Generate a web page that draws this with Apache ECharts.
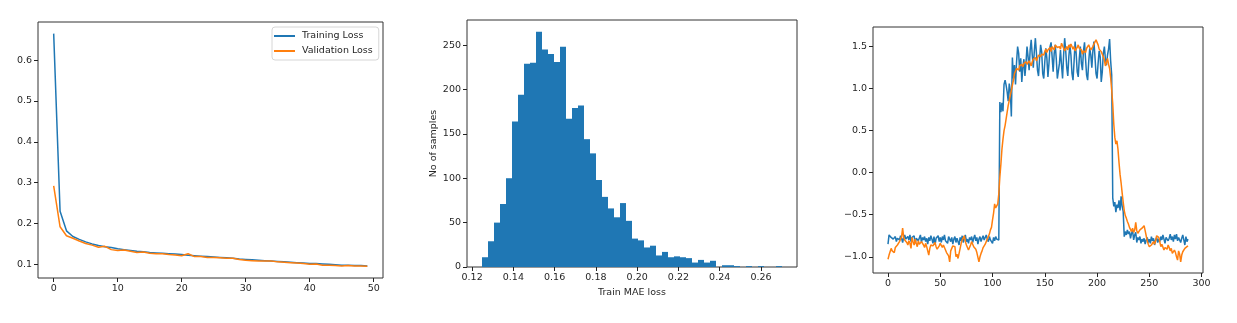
<!DOCTYPE html>
<html>
<head>
<meta charset="utf-8">
<script src="https://cdn.jsdelivr.net/npm/echarts@6/dist/echarts.min.js"></script>
<style>
html,body{margin:0;padding:0;background:#fff;}
#chart{width:1237px;height:323px;}
</style>
</head>
<body>
<div id="chart"></div>
<script>
// ---- Panel 1: loss curves ----
const trainLoss = [0.665, 0.230, 0.182, 0.168, 0.161, 0.155, 0.150, 0.146, 0.143, 0.141,
  0.138, 0.136, 0.134, 0.132, 0.131, 0.129, 0.128, 0.127, 0.126, 0.125,
  0.124, 0.122, 0.121, 0.120, 0.119, 0.118, 0.117, 0.116, 0.115, 0.113,
  0.112, 0.111, 0.110, 0.109, 0.108, 0.107, 0.106, 0.105, 0.104, 0.103,
  0.102, 0.102, 0.101, 0.100, 0.099, 0.098, 0.098, 0.097, 0.097, 0.096];
const valLoss = [0.292, 0.192, 0.170, 0.164, 0.157, 0.151, 0.147, 0.142, 0.144, 0.136,
  0.134, 0.135, 0.132, 0.129, 0.130, 0.127, 0.126, 0.126, 0.124, 0.123,
  0.121, 0.126, 0.119, 0.119, 0.117, 0.117, 0.116, 0.115, 0.115, 0.112,
  0.110, 0.109, 0.108, 0.108, 0.108, 0.106, 0.105, 0.104, 0.103, 0.102,
  0.100, 0.101, 0.098, 0.098, 0.097, 0.096, 0.097, 0.096, 0.096, 0.095];
const lossXTicks = [0, 10, 20, 30, 40, 50];
const lossYTicks = [0.1, 0.2, 0.3, 0.4, 0.5, 0.6];

// ---- Panel 2: histogram of train MAE loss ----
const maeBinStart = 0.1248;
const maeBinWidth = 0.002908;
const maeCounts = [11, 29, 50, 71, 100, 164, 194, 229, 230, 265,
  245, 240, 231, 248, 167, 179, 182, 144, 128, 98,
  79, 66, 56, 72, 52, 32, 30, 22, 24, 13,
  17, 11, 12, 11, 10, 5, 8, 5, 7, 0,
  2, 2, 1, 0, 1, 0, 1, 0, 0, 1];
const maeXTicks = [0.12, 0.14, 0.16, 0.18, 0.20, 0.22, 0.24, 0.26];
const maeYTicks = [0, 50, 100, 150, 200, 250];

// ---- Panel 3: two signals ----
const signalBlue = [
  -0.85, -0.74, -0.73, -0.77, -0.75, -0.79, -0.78, -0.76, -0.82, -0.78,
  -0.77, -0.80, -0.75, -0.78, -0.83, -0.77, -0.74, -0.79, -0.81, -0.76,
  -0.80, -0.74, -0.82, -0.77, -0.79, -0.75, -0.84, -0.78, -0.76, -0.81,
  -0.79, -0.74, -0.83, -0.77, -0.80, -0.76, -0.82, -0.78, -0.85, -0.77,
  -0.81, -0.75, -0.79, -0.84, -0.76, -0.86, -0.78, -0.80, -0.75, -0.82,
  -0.77, -0.83, -0.76, -0.80, -0.74, -0.81, -0.79, -0.84, -0.76, -0.78,
  -0.82, -0.77, -0.85, -0.79, -0.76, -0.83, -0.78, -0.80, -0.86, -0.77,
  -0.81, -0.75, -0.83, -0.78, -0.74, -0.82, -0.79, -0.84, -0.77, -0.80,
  -0.76, -0.83, -0.78, -0.74, -0.81, -0.77, -0.85, -0.79, -0.76, -0.82,
  -0.78, -0.75, -0.80, -0.77, -0.74, -0.79, -0.82, -0.76, -0.80, -0.78,
  -0.84, -0.77, -0.81, -0.76, -0.79, -0.78, -0.80,
  0.84, 0.72, 0.83,
  0.73, 1.05, 1.10, 1.04, 0.96, 0.85, 1.06, 0.98, 0.67, 1.37,
  1.12, 1.28, 1.05, 1.32, 1.50, 1.42, 1.20, 1.36, 1.08, 1.25,
  1.35, 1.15, 1.30, 1.50, 1.38, 1.22, 1.46, 1.58, 1.40, 1.25,
  1.45, 1.60, 1.42, 1.22, 1.15, 1.35, 1.52, 1.44, 1.18, 1.12,
  1.32, 1.48, 1.36, 1.14, 1.30, 1.50, 1.55, 1.38, 1.20, 1.42,
  1.52, 1.35, 1.12, 1.10, 1.30, 1.46, 1.28, 1.12, 1.40, 1.60,
  1.45, 1.25, 1.15, 1.38, 1.52, 1.40, 1.18, 1.10, 1.32, 1.56,
  1.42, 1.20, 1.14, 1.36, 1.50, 1.30, 1.22, 1.45, 1.55, 1.35,
  1.16, 1.10, 1.32, 1.48, 1.40, 1.25, 1.45, 1.56, 1.38, 1.18,
  1.12, 1.30, 1.45, 1.38, 1.08, 1.20, 1.42, 1.50, 1.35, 1.28,
  1.40, 1.47, 1.59, 1.33, 1.16,
  -0.30, -0.40, -0.35, -0.47, -0.38,
  -0.42, -0.33, -0.45, -0.28, -0.40, -0.46,
  -0.76, -0.70, -0.74, -0.68,
  -0.73, -0.70, -0.78, -0.72, -0.69, -0.80, -0.74, -0.71, -0.83, -0.77,
  -0.80, -0.76, -0.84, -0.79, -0.82, -0.78, -0.85, -0.80, -0.77, -0.83,
  -0.79, -0.84, -0.76, -0.81, -0.78, -0.86, -0.80, -0.77, -0.83, -0.79,
  -0.82, -0.76, -0.80, -0.74, -0.79, -0.84, -0.77, -0.75, -0.81, -0.78,
  -0.73, -0.80, -0.76, -0.82, -0.74, -0.79, -0.73, -0.81, -0.77, -0.75,
  -0.83, -0.78, -0.74, -0.80, -0.86, -0.76, -0.82, -0.79];
const signalOrange = [
  -1.03, -0.98, -0.94, -0.90, -0.93, -0.91, -0.95, -0.89, -0.87, -0.86,
  -0.85, -0.82, -0.80, -0.76, -0.66, -0.77, -0.80, -0.78, -0.83, -0.86,
  -0.81, -0.84, -0.90, -0.77, -0.82, -0.86, -0.79, -0.84, -0.88, -0.81,
  -0.85, -0.87, -0.82, -0.83, -0.86, -0.89, -0.84, -0.88, -0.93, -0.98,
  -0.90, -0.86, -0.84, -0.87, -0.85, -0.83, -0.88, -0.91, -0.93, -0.87,
  -0.84, -0.85, -0.89, -0.86, -0.89, -0.92, -0.95, -0.97, -0.99, -1.06,
  -0.93, -0.90, -0.87, -0.89, -0.88, -1.00, -0.97, -1.02, -1.04, -0.90,
  -0.84, -0.80, -0.78, -0.75, -0.82, -0.86, -0.89, -0.92, -0.93, -0.86,
  -0.82, -0.85, -0.88, -0.87, -0.91, -0.95, -0.97, -1.06, -1.00, -0.96,
  -0.93, -0.89, -0.87, -0.85, -0.82, -0.80, -0.76, -0.73, -0.68, -0.65,
  -0.56, -0.48, -0.37, -0.42, -0.44, -0.37, -0.25,
  -0.05, 0.10, 0.28,
  0.40, 0.50, 0.56, 0.64, 0.72, 0.80, 0.86, 0.92, 0.98, 1.04,
  1.10, 1.18, 1.21, 1.24, 1.26, 1.22, 1.27, 1.25, 1.29, 1.26,
  1.30, 1.28, 1.32, 1.29, 1.31, 1.33, 1.30, 1.27, 1.32, 1.35,
  1.34, 1.37, 1.33, 1.36, 1.40, 1.42, 1.38, 1.41, 1.43, 1.40,
  1.44, 1.47, 1.43, 1.46, 1.45, 1.49, 1.44, 1.50, 1.48, 1.46,
  1.52, 1.53, 1.49, 1.51, 1.50, 1.47, 1.54, 1.52, 1.48, 1.45,
  1.44, 1.50, 1.46, 1.52, 1.49, 1.53, 1.51, 1.47, 1.50, 1.45,
  1.44, 1.49, 1.52, 1.48, 1.50, 1.46, 1.41, 1.45, 1.47, 1.43,
  1.48, 1.50, 1.52, 1.49, 1.46, 1.44, 1.50, 1.53, 1.55, 1.58,
  1.56, 1.52, 1.47, 1.49, 1.44, 1.42, 1.38, 1.34, 1.27, 1.25,
  1.36, 1.29, 1.24, 1.13, 0.98, 0.82, 0.58, 0.42, 0.34, 0.38,
  0.28, 0.12, -0.02, -0.12, -0.24, -0.35, -0.45, -0.51, -0.54, -0.58,
  -0.61, -0.65, -0.67, -0.70, -0.66, -0.71, -0.68, -0.59, -0.69, -0.72,
  -0.73, -0.68, -0.70, -0.66, -0.64, -0.63, -0.69, -0.75, -0.81, -0.85,
  -0.88, -0.90, -0.86, -0.84, -0.82, -0.85, -0.81, -0.75, -0.73, -0.77,
  -0.82, -0.88, -0.85, -0.87, -0.92, -0.89, -0.88, -0.91, -0.86, -0.89,
  -0.93, -0.90, -0.96, -0.94, -0.92, -0.95, -1.00, -1.04, -0.93, -0.97,
  -1.06, -0.98, -0.94, -0.92, -0.90, -0.89, -0.88, -0.87];
const sigXTicks = [0, 50, 100, 150, 200, 250, 300];
const sigYTicks = [-1.0, -0.5, 0.0, 0.5, 1.0, 1.5];

// ---- build ----
const BLUE = '#1f77b4', ORANGE = '#ff7f0e';
const FONT = 'DejaVu Sans';
const FS = 9.5;
const TXT = '#262626';

function padRange(vals, frac) {
  const mn = Math.min(...vals), mx = Math.max(...vals);
  const m = (mx - mn) * frac;
  return [mn - m, mx + m];
}
const lossX = [-0.05 * (trainLoss.length - 1), (trainLoss.length - 1) * 1.05];
const lossY = padRange(trainLoss.concat(valLoss), 0.05);
const maeLo = maeBinStart, maeHi = maeBinStart + maeBinWidth * maeCounts.length;
const maeX = [maeLo - (maeHi - maeLo) * 0.05, maeHi + (maeHi - maeLo) * 0.05];
const maeYmax = Math.max(...maeCounts) * 1.05;
const sigN = signalBlue.length - 1;
const sigX = [-0.05 * sigN, sigN * 1.05];
const sigY = padRange(signalBlue.concat(signalOrange), 0.05);

const minus = s => s.replace('-', '\u2212');

function valueAxis(gridIndex, range, ticks, fmt, extra) {
  return Object.assign({
    type: 'value', gridIndex: gridIndex, min: range[0], max: range[1],
    axisLine: { show: false, onZero: false },
    splitLine: { show: false },
    axisTick: { show: true, customValues: ticks, length: 4, inside: false,
      lineStyle: { color: '#222', width: 1 } },
    axisLabel: { show: true, customValues: ticks, formatter: fmt, margin: 6,
      color: TXT, fontFamily: FONT, fontSize: FS }
  }, extra || {});
}

const histData = maeCounts.map((c, i) => [maeBinStart + i * maeBinWidth, maeBinStart + (i + 1) * maeBinWidth, c]);

const gridStyle = { show: true, borderColor: '#333', borderWidth: 1, backgroundColor: 'transparent', containLabel: false };

const option = {
  animation: false,
  backgroundColor: '#fff',
  textStyle: { fontFamily: FONT },
  grid: [
    Object.assign({ left: 38, top: 22, width: 345, height: 256 }, gridStyle),
    Object.assign({ left: 467, top: 20, width: 330, height: 247 }, gridStyle),
    Object.assign({ left: 873, top: 27, width: 330, height: 246 }, gridStyle)
  ],
  legend: {
    data: ['Training Loss', 'Validation Loss'],
    orient: 'vertical', left: 272, top: 27,
    icon: 'rect', itemWidth: 21, itemHeight: 2, itemGap: 3,
    padding: [3, 6, 3, 2],
    backgroundColor: '#fff', borderColor: '#d6d6d6', borderWidth: 1, borderRadius: 3,
    textStyle: { color: TXT, fontFamily: FONT, fontSize: FS, lineHeight: 12, padding: [0, 0, 0, 2] }
  },
  xAxis: [
    valueAxis(0, lossX, lossXTicks, v => String(Math.round(v))),
    valueAxis(1, maeX, maeXTicks, v => v.toFixed(2), {
      name: 'Train MAE loss', nameLocation: 'middle', nameGap: 21,
      nameTextStyle: { color: TXT, fontFamily: FONT, fontSize: FS } }),
    valueAxis(2, sigX, sigXTicks, v => String(Math.round(v)))
  ],
  yAxis: [
    valueAxis(0, lossY, lossYTicks, v => v.toFixed(1)),
    valueAxis(1, [0, maeYmax], maeYTicks, v => String(Math.round(v)), {
      name: 'No of samples', nameLocation: 'middle', nameGap: 28, nameRotate: 90,
      nameTextStyle: { color: TXT, fontFamily: FONT, fontSize: FS } }),
    valueAxis(2, sigY, sigYTicks, v => minus(v.toFixed(1)))
  ],
  series: [
    { name: 'Training Loss', type: 'line', xAxisIndex: 0, yAxisIndex: 0,
      data: trainLoss.map((v, i) => [i, v]), showSymbol: false, symbol: 'none',
      lineStyle: { color: BLUE, width: 1.5 }, itemStyle: { color: BLUE }, z: 3 },
    { name: 'Validation Loss', type: 'line', xAxisIndex: 0, yAxisIndex: 0,
      data: valLoss.map((v, i) => [i, v]), showSymbol: false, symbol: 'none',
      lineStyle: { color: ORANGE, width: 1.5 }, itemStyle: { color: ORANGE }, z: 4 },
    { type: 'custom', xAxisIndex: 1, yAxisIndex: 1, data: histData,
      encode: { x: [0, 1], y: 2 },
      renderItem: function (params, api) {
        const p0 = api.coord([api.value(0), api.value(2)]);
        const p1 = api.coord([api.value(1), 0]);
        return { type: 'rect',
          shape: { x: p0[0], y: p0[1], width: p1[0] - p0[0], height: p1[1] - p0[1] },
          style: { fill: BLUE } };
      } },
    { type: 'line', xAxisIndex: 2, yAxisIndex: 2,
      data: signalBlue.map((v, i) => [i, v]), showSymbol: false, symbol: 'none',
      lineStyle: { color: BLUE, width: 1.5 }, z: 3 },
    { type: 'line', xAxisIndex: 2, yAxisIndex: 2,
      data: signalOrange.map((v, i) => [i, v]), showSymbol: false, symbol: 'none',
      lineStyle: { color: ORANGE, width: 1.5 }, z: 4 }
  ]
};
const chart = echarts.init(document.getElementById('chart'), null, { renderer: 'canvas' });
chart.setOption(option);
</script>
</body>
</html>
